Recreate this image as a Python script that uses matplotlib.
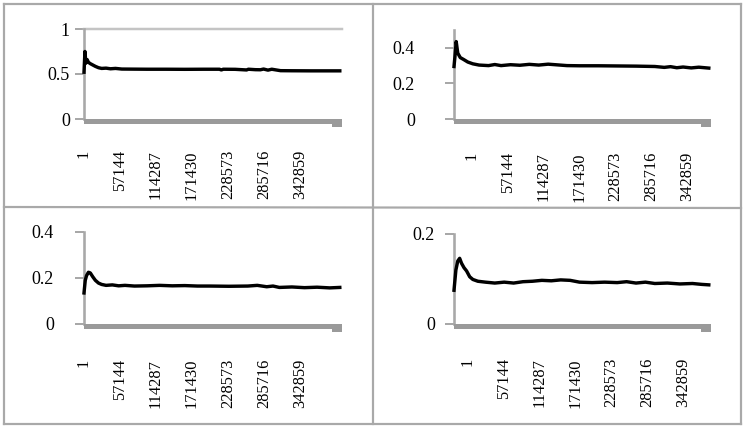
import matplotlib
matplotlib.use("Agg")
import matplotlib.pyplot as plt
from matplotlib.patches import Rectangle
from matplotlib.lines import Line2D

# ---------------- data ----------------
x_tick_values = [1, 57144, 114287, 171430, 228573, 285716, 342859]
x_tick_labels = ["1", "57144", "114287", "171430", "228573", "285716", "342859"]

p1_x = [1, 1500, 3000, 5000, 7000, 10000, 14000, 18000, 23000, 28000, 35000, 42000, 50000,
        60000, 80000, 100000, 130000, 160000, 190000, 215000, 218000, 221000, 240000, 258000,
        261000, 272000, 280000, 285000, 292000, 298000, 305000, 312000, 330000, 360000, 390000, 406000]
p1_y = [0.52, 0.75, 0.62, 0.66, 0.63, 0.615, 0.60, 0.585, 0.57, 0.562, 0.565, 0.558, 0.562,
        0.555, 0.554, 0.553, 0.553, 0.552, 0.553, 0.553, 0.545, 0.553, 0.552, 0.545,
        0.553, 0.548, 0.547, 0.555, 0.543, 0.553, 0.545, 0.537, 0.536, 0.535, 0.535, 0.535]

p2_x = [1, 1500, 3500, 6000, 10000, 15000, 22000, 30000, 40000, 55000, 65000, 75000, 90000,
        105000, 120000, 135000, 150000, 165000, 180000, 200000, 230000, 260000, 290000, 320000,
        335000, 345000, 355000, 365000, 378000, 390000, 406000]
p2_y = [0.295, 0.35, 0.435, 0.37, 0.345, 0.335, 0.32, 0.31, 0.303, 0.30, 0.306, 0.30, 0.305,
        0.302, 0.307, 0.303, 0.308, 0.304, 0.300, 0.299, 0.299, 0.298, 0.297, 0.295,
        0.29, 0.294, 0.288, 0.292, 0.287, 0.291, 0.286]

p3_x = [1, 2000, 4000, 7000, 10000, 14000, 18000, 23000, 28000, 35000, 45000, 55000, 65000,
        80000, 100000, 120000, 140000, 160000, 180000, 200000, 230000, 260000, 275000, 290000,
        300000, 310000, 330000, 350000, 370000, 390000, 406000]
p3_y = [0.135, 0.19, 0.21, 0.225, 0.222, 0.205, 0.19, 0.178, 0.172, 0.168, 0.170, 0.166, 0.168,
        0.165, 0.166, 0.168, 0.166, 0.167, 0.165, 0.165, 0.164, 0.165, 0.168, 0.162,
        0.165, 0.159, 0.161, 0.158, 0.160, 0.157, 0.159]

p4_x = [1, 3000, 6000, 9000, 12000, 16000, 20000, 25000, 30000, 38000, 50000, 65000, 80000,
        95000, 110000, 125000, 140000, 155000, 170000, 185000, 200000, 220000, 240000, 260000,
        275000, 290000, 305000, 320000, 340000, 360000, 380000, 395000, 406000]
p4_y = [0.075, 0.12, 0.14, 0.146, 0.135, 0.125, 0.118, 0.105, 0.099, 0.095, 0.093, 0.091, 0.093,
        0.091, 0.094, 0.095, 0.097, 0.096, 0.098, 0.097, 0.093, 0.092, 0.093, 0.092,
        0.094, 0.091, 0.093, 0.090, 0.091, 0.089, 0.090, 0.088, 0.087]

series = [(p1_x, p1_y), (p2_x, p2_y), (p3_x, p3_y), (p4_x, p4_y)]
y_ticks = [[0, 0.5, 1], [0, 0.2, 0.4], [0, 0.2, 0.4], [0, 0.2]]
y_tick_labels = [["0", "0.5", "1"], ["0", "0.2", "0.4"], ["0", "0.2", "0.4"], ["0", "0.2"]]
y_max = [1.0, 0.5, 0.4, 0.2]

# ---------------- style / layout ----------------
W, H = 744, 432
DPI = 100
PX = 72.0 / DPI  # points per pixel
plt.rcParams['font.family'] = ['Liberation Serif', 'DejaVu Serif']

fig = plt.figure(figsize=(W / DPI, H / DPI), dpi=DPI)
fig.patch.set_facecolor('white')

# panel layouts: (left, top, right, bottom) in px, x-label offset, xlabel pad px, ylabel gap px
layouts = [
    dict(box=(84, 29, 342, 119), xoff=0, xpad=31, ygap=5),
    dict(box=(454, 30, 711, 119), xoff=28571, xpad=33, ygap=30),
    dict(box=(84, 232, 342, 324), xoff=0, xpad=35, ygap=21),
    dict(box=(454, 234, 711, 324), xoff=22000, xpad=34, ygap=10),
]

axis_gray = '#a8a8a8'
bar_gray = '#9a9a9a'
XMAX = 409500

for i, lay in enumerate(layouts):
    l, t, r, b = lay['box']
    wpx, hpx = r - l, b - t
    ax = fig.add_axes([l / W, 1 - b / H, wpx / W, hpx / H])
    xs, ys = series[i]
    ax.plot(xs, ys, color='black', lw=3.4 * PX, solid_joinstyle='round', zorder=5, clip_on=False)
    ax.set_xlim(1, XMAX)
    ax.set_ylim(0, y_max[i])
    for s in ['top', 'right', 'bottom']:
        ax.spines[s].set_visible(False)
    ax.spines['left'].set_color(axis_gray)
    ax.spines['left'].set_linewidth(2.6 * PX)
    ax.set_yticks(y_ticks[i], labels=y_tick_labels[i])
    ax.tick_params(axis='y', length=9 * PX, width=2 * PX, color=axis_gray,
                   pad=lay['ygap'] * PX, labelsize=13, labelcolor='black')
    ax.set_xticks([v + lay['xoff'] for v in x_tick_values], labels=x_tick_labels, rotation=90)
    ax.tick_params(axis='x', length=0, pad=lay['xpad'] * PX, labelsize=11.8, labelcolor='black')
    # thick gray category-axis bar under zero
    bh = 5.0 / hpx
    ax.add_patch(Rectangle((0, -bh), 1, bh, transform=ax.transAxes, color=bar_gray,
                           clip_on=False, zorder=3, lw=0))
    ax.add_patch(Rectangle((1 - 10.0 / wpx, -8.0 / hpx), 10.0 / wpx, 8.0 / hpx,
                           transform=ax.transAxes, color=bar_gray, clip_on=False, zorder=3, lw=0))
    if i == 0:
        ax.axhline(1.0, color='#c4c4c4', lw=2.5 * PX, zorder=2, clip_on=False)

# panel frame lines
frame_color = '#a9a9a9'
def fline(x0, y0, x1, y1):
    fig.add_artist(Line2D([x0 / W, x1 / W], [1 - y0 / H, 1 - y1 / H],
                          transform=fig.transFigure, color=frame_color, lw=2.2 * PX))

fline(4, 4, 741, 4)
fline(4, 424, 741, 424)
fline(4, 4, 4, 424)
fline(741, 4, 741, 424)
fline(373, 4, 373, 424)
fline(4, 207, 741, 208)

fig.savefig('out.png', dpi=DPI)
